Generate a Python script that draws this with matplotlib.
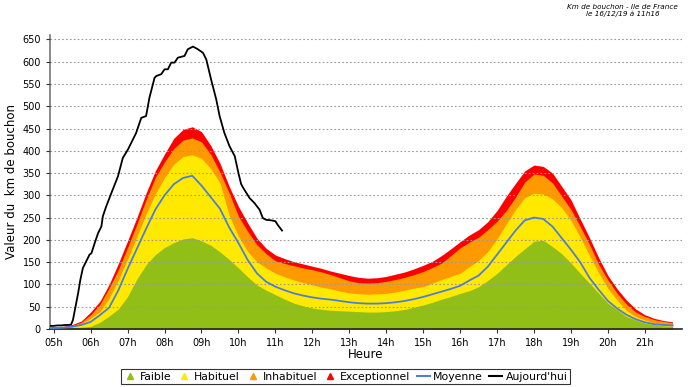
import numpy as np
import matplotlib
matplotlib.use("Agg")
import matplotlib.pyplot as plt
from matplotlib.lines import Line2D

# quarter-hour time axis (hours)
hours = [4.9] + list(np.arange(5.0, 21.76, 0.25))

# cumulative top boundary of each band (km)
faible = [2, 2, 2, 3, 4, 6, 15, 29, 45, 73, 112, 144, 167, 183, 194, 202, 205, 198, 188, 173, 156,
          137, 117, 99, 87, 77, 67, 58, 52, 47, 44, 42, 41, 40, 39, 38, 38, 39, 41, 44, 49, 54, 60,
          67, 73, 80, 86, 95, 109, 125, 144, 163, 180, 197, 199, 185, 169, 148, 125, 103, 80, 58,
          43, 28, 20, 13, 10, 7, 6]
habituel = [3, 3, 4, 6, 12, 24, 39, 69, 110, 157, 207, 258, 303, 340, 370, 387, 391, 383, 360, 328,
            255, 208, 174, 151, 137, 125, 117, 110, 104, 99, 94, 90, 85, 81, 79, 78, 79, 80, 83, 87,
            92, 95, 103, 111, 118, 125, 140, 154, 174, 202, 236, 268, 295, 305, 303, 292, 272, 244,
            206, 165, 126, 91, 65, 42, 28, 20, 14, 11, 10]
inhabituel = [4, 4, 5, 8, 15, 32, 55, 92, 133, 183, 235, 290, 340, 375, 405, 424, 429, 420, 392, 352,
              305, 253, 219, 189, 169, 153, 147, 142, 137, 133, 128, 122, 115, 108, 104, 103, 104,
              107, 111, 116, 122, 129, 138, 148, 165, 182, 195, 206, 223, 242, 266, 296, 330, 348,
              345, 328, 298, 268, 230, 190, 145, 110, 80, 56, 38, 28, 21, 17, 14]
exceptionnel = [5, 5, 6, 10, 18, 38, 62, 100, 147, 198, 250, 305, 355, 393, 428, 448, 454, 443, 412,
                372, 320, 275, 238, 204, 181, 166, 158, 151, 146, 141, 136, 130, 125, 120, 116, 114,
                115, 118, 123, 128, 135, 143, 152, 165, 180, 196, 211, 223, 241, 266, 298, 327, 355,
                368, 365, 350, 320, 290, 247, 205, 160, 120, 90, 65, 45, 32, 24, 19, 16]
moyenne = [2, 2, 3, 5, 9, 16, 31, 48, 87, 135, 180, 225, 268, 300, 325, 339, 344, 322, 296, 270,
           228, 193, 155, 125, 106, 95, 87, 80, 75, 71, 68, 66, 63, 60, 58, 57, 57, 58, 60, 63, 67,
           72, 78, 84, 90, 97, 109, 120, 140, 167, 194, 221, 244, 250, 247, 230, 204, 178, 150, 115,
           88, 63, 46, 32, 22, 15, 11, 9, 8]

# today's curve
auj_hours = [4.9, 5.0, 5.1, 5.2, 5.3, 5.4, 5.47, 5.52, 5.59, 5.66, 5.72, 5.79, 5.88, 5.97, 6.02, 6.11,
             6.2, 6.29, 6.33, 6.42, 6.56, 6.74, 6.87, 7.01, 7.23, 7.37, 7.5, 7.59, 7.73, 7.78, 7.91,
             8.0, 8.09, 8.18, 8.27, 8.36, 8.54, 8.63, 8.77, 8.9, 9.04, 9.13, 9.26, 9.4, 9.49, 9.62,
             9.76, 9.9, 10.0, 10.07, 10.12, 10.3, 10.43, 10.57, 10.66, 10.75, 10.88, 11.0, 11.06, 11.18]
auj_vals = [7, 7, 8, 8, 9, 9, 10, 20, 50, 80, 110, 137, 152, 167, 170, 193, 215, 230, 253, 275, 305,
            343, 384, 403, 440, 474, 478, 519, 564, 568, 572, 583, 583, 598, 598, 609, 613, 628, 634,
            628, 620, 605, 560, 515, 478, 440, 410, 388, 350, 326, 318, 294, 283, 268, 249, 245, 244,
            242, 234, 221]

hour_ticks = list(range(5, 22))
hour_labels = ["%02dh" % h for h in hour_ticks]

c_green = "#92BE18"
c_yellow = "#FFE900"
c_orange = "#FF9900"
c_red = "#FF0000"
c_blue = "#4D7FD6"

fig = plt.figure(figsize=(6.88, 3.87), dpi=100)
ax = fig.add_axes([0.0727, 0.1499, 0.9183, 0.7597])

ax.set_xlim(4.9, 22.0)
ax.set_ylim(0, 660)
ax.set_yticks(range(0, 651, 50))
ax.yaxis.grid(True, linestyle=(0, (1.5, 2)), color="#9a9a9a", linewidth=0.8)
ax.set_axisbelow(False)

ax.fill_between(hours, 0, exceptionnel, color=c_red, linewidth=0, zorder=2)
ax.fill_between(hours, 0, inhabituel, color=c_orange, linewidth=0, zorder=2)
ax.fill_between(hours, 0, habituel, color=c_yellow, linewidth=0, zorder=2)
ax.fill_between(hours, 0, faible, color=c_green, linewidth=0, zorder=2)
ax.plot(hours, moyenne, color=c_blue, linewidth=1.3, zorder=3)
ax.plot(auj_hours, auj_vals, color="black", linewidth=1.3, zorder=4)

ax.set_xticks(hour_ticks)
ax.set_xticklabels(hour_labels)
ax.tick_params(axis="both", labelsize=7, length=3, width=0.8, colors="#333333", labelcolor="black")
for s in ["top", "right"]:
    ax.spines[s].set_visible(False)
ax.spines["left"].set_color("#777777")
ax.spines["left"].set_linewidth(1.2)
ax.spines["bottom"].set_color("#222222")
ax.spines["bottom"].set_linewidth(1.2)

ax.set_xlabel("Heure", fontsize=8.5, labelpad=0)
ax.set_ylabel("Valeur du  km de bouchon", fontsize=8.5)
ax.yaxis.set_label_coords(-0.05, 0.5)

handles = [
    Line2D([], [], marker="^", linestyle="none", color=c_green, markersize=5),
    Line2D([], [], marker="^", linestyle="none", color=c_yellow, markersize=5),
    Line2D([], [], marker="^", linestyle="none", color=c_orange, markersize=5),
    Line2D([], [], marker="^", linestyle="none", color=c_red, markersize=5),
    Line2D([], [], color=c_blue, linewidth=1.5),
    Line2D([], [], color="black", linewidth=1.5),
]
labels = ["Faible", "Habituel", "Inhabituel", "Exceptionnel", "Moyenne", "Aujourd'hui"]
leg = fig.legend(handles, labels, loc="center", bbox_to_anchor=(0.502, 0.0265), ncol=6,
                 fontsize=7.8, frameon=True, fancybox=False, edgecolor="black",
                 handlelength=1.2, handletextpad=0.3, columnspacing=0.6,
                 borderpad=0.25, borderaxespad=0)
leg.get_frame().set_linewidth(0.8)

fig.text(0.905, 0.99, "Km de bouchon - Ile de France\nle 16/12/19 à 11h16", ha="center", va="top",
         style="italic", fontsize=5.2, linespacing=1.15)

fig.savefig("out.png", dpi=100)
